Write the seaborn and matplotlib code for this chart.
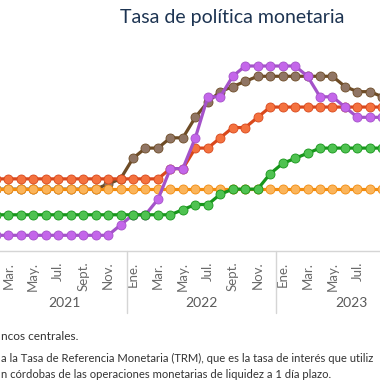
import numpy as np
import pandas as pd
import matplotlib
matplotlib.use("Agg")
import matplotlib.pyplot as plt
import matplotlib.transforms as mtransforms
import seaborn as sns

# Meses de feb. 2021 a sept. 2023 (un punto por mes)
meses = pd.date_range("2021-02-01", "2023-09-01", freq="MS")

# Tasas de política monetaria (%)
rep_dominicana = [3.0, 3.0, 3.0, 3.0, 3.0, 3.0, 3.0, 3.0, 3.0, 3.25, 3.5,
                  4.5, 5.0, 5.0, 5.5, 5.5, 6.5, 7.25, 7.75, 8.0, 8.25, 8.5, 8.5,
                  8.5, 8.5, 8.5, 8.5, 8.5, 8.0, 7.75, 7.75, 7.5]
honduras = [3.0] * 32
nicaragua = [3.5, 3.5, 3.5, 3.5, 3.5, 3.5, 3.5, 3.5, 3.5, 3.5, 3.5,
             3.5, 3.5, 3.5, 4.0, 4.0, 5.0, 5.0, 5.5, 6.0, 6.0, 6.5, 7.0,
             7.0, 7.0, 7.0, 7.0, 7.0, 7.0, 7.0, 7.0, 7.0]
costa_rica = [0.75, 0.75, 0.75, 0.75, 0.75, 0.75, 0.75, 0.75, 0.75, 0.75, 1.25,
              1.75, 1.75, 2.5, 4.0, 4.0, 5.5, 7.5, 7.5, 8.5, 9.0, 9.0, 9.0,
              9.0, 9.0, 8.5, 7.5, 7.5, 7.0, 6.5, 6.5, 6.5]
guatemala = [1.75, 1.75, 1.75, 1.75, 1.75, 1.75, 1.75, 1.75, 1.75, 1.75, 1.75,
             1.75, 1.75, 1.75, 1.75, 2.0, 2.25, 2.25, 2.75, 3.0, 3.0, 3.0, 3.75,
             4.25, 4.5, 4.75, 5.0, 5.0, 5.0, 5.0, 5.0, 5.0]

# orden de dibujo: (nombre, datos, color línea, color marcador)
series = [
    ("Rep. Dominicana", rep_dominicana, "#6e4c26", "#907564"),
    ("Honduras", honduras, "#f28c0f", "#fbb45a"),
    ("Nicaragua", nicaragua, "#d9481c", "#f4723f"),
    ("Costa Rica", costa_rica, "#a452c9", "#c466ea"),
    ("Guatemala", guatemala, "#17961b", "#4fc251"),
]

meses_abrev = {1: "Ene.", 3: "Mar.", 5: "May.", 7: "Jul.", 9: "Sept.", 11: "Nov."}

sns.set_theme(style="white")
plt.rcParams["font.family"] = ["Lato", "DejaVu Sans"]

fig = plt.figure(figsize=(3.8, 3.8), dpi=100)
ax = fig.add_axes([0, 0.3403, 1, 0.54])

x = np.arange(len(meses))
for nombre, datos, c_linea, c_marca in series:
    sns.lineplot(x=x, y=datos, ax=ax, color=c_linea, linewidth=2.3,
                 marker="o", markersize=6.5, markerfacecolor=c_marca,
                 markeredgecolor=c_linea, markeredgewidth=0.6, label=nombre,
                 legend=False)

ax.set_xlim(0.334, 30.81)
ax.set_ylim(0, 10)
ax.set_yticks([])
ax.set_ylabel("")

# la etiqueta de sept. 2023 queda fuera del recorte
ticks = [i for i, m in enumerate(meses) if m.month in meses_abrev and i < 31]
ax.set_xticks(ticks)
ax.set_xticklabels([meses_abrev[meses[i].month] for i in ticks], rotation=90,
                   fontsize=9.5, color="#6a6a6a")
ax.tick_params(axis="x", length=0, pad=8)

for lado in ["top", "left", "right"]:
    ax.spines[lado].set_visible(False)
ax.spines["bottom"].set_color("#d5d5d5")
ax.spines["bottom"].set_linewidth(1.0)

trans = mtransforms.blended_transform_factory(ax.transData, ax.transAxes)
for sep in [10.5, 22.5]:
    ax.plot([sep, sep], [0, -0.305], transform=trans, color="#d5d5d5",
            linewidth=1.0, clip_on=False)
for anio, centro in [("2021", 5.5), ("2022", 16.5), ("2023", 28.5)]:
    ax.text(centro, -0.255, anio, transform=trans, ha="center", va="center",
            fontsize=10, color="#5a5a5a")

fig.text(232 / 380, 1 - 17 / 380, "Tasa de política monetaria", ha="center",
         va="center", fontsize=14, color="#1d3452")

fig.text(0.002, 1 - 337 / 380, "ncos centrales.", ha="left", va="center",
         fontsize=8.6, color="#333333")
fig.text(0.002, 1 - 358 / 380,
         "a la Tasa de Referencia Monetaria (TRM), que es la tasa de interés que utiliz",
         ha="left", va="center", fontsize=8.1, color="#333333")
fig.text(0.002, 1 - 374 / 380,
         "n córdobas de las operaciones monetarias de liquidez a 1 día plazo.",
         ha="left", va="center", fontsize=8.1, color="#333333")

fig.savefig("out.png", dpi=100)
